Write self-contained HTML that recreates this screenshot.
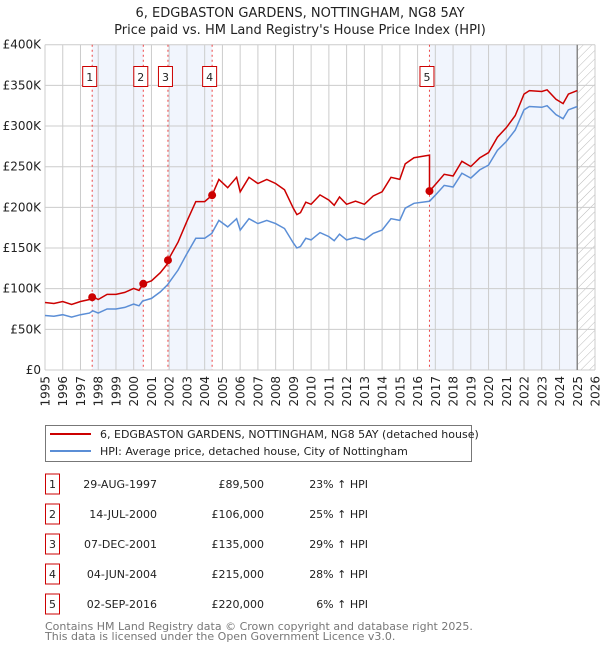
<!DOCTYPE html>
<html><head><meta charset="utf-8"><style>
body{margin:0;background:#fff;font-family:"Liberation Sans","DejaVu Sans",sans-serif}
svg{display:block}
</style></head><body>
<svg id="c" width="600" height="650" xmlns="http://www.w3.org/2000/svg" font-family="DejaVu Sans, Liberation Sans, sans-serif">
<text x="300" y="17" text-anchor="middle" font-size="13" fill="#222">6, EDGBASTON GARDENS, NOTTINGHAM, NG8 5AY</text>
<text x="300" y="34" text-anchor="middle" font-size="13" fill="#222">Price paid vs. HM Land Registry's House Price Index (HPI)</text>
<g id="plot"></g>
<g>
<rect x="45.5" y="425.5" width="426" height="36" fill="#fff" stroke="#777"/>
<line x1="50" y1="434" x2="91" y2="434" stroke="#cc0000" stroke-width="2"/>
<text x="100" y="438" font-size="11" fill="#222">6, EDGBASTON GARDENS, NOTTINGHAM, NG8 5AY (detached house)</text>
<line x1="50" y1="451" x2="91" y2="451" stroke="#5b8ed6" stroke-width="2"/>
<text x="100" y="455" font-size="11" fill="#222">HPI: Average price, detached house, City of Nottingham</text>
</g>
<g id="table" font-size="11" fill="#222"></g>
<text x="45" y="630" font-size="11" fill="#777">Contains HM Land Registry data © Crown copyright and database right 2025.</text>
<text x="45" y="640" font-size="11" fill="#777">This data is licensed under the Open Government Licence v3.0.</text>
</svg>
<script>
const hpiYears=[1995,1995.5,1996,1996.5,1997,1997.5,1997.7,1998,1998.5,1999,1999.5,2000,2000.3,2000.5,2001,2001.5,2001.9,2002.5,2003,2003.5,2004,2004.4,2004.8,2005.3,2005.8,2006,2006.5,2007,2007.5,2008,2008.5,2009,2009.2,2009.4,2009.7,2010,2010.5,2011,2011.3,2011.6,2012,2012.5,2013,2013.5,2014,2014.5,2015,2015.3,2015.8,2016.67,2017,2017.5,2018,2018.5,2019,2019.5,2020,2020.5,2021,2021.5,2022,2022.3,2023,2023.3,2023.8,2024.2,2024.5,2025];
const hpiValues=[67,66,68,65,68,70,72.8,70,75,75,77,81,79,84.8,88,96,104.7,123,143,162,162,168,184,176,186,172,186,180,184,180,174,156,150,152,162,160,169,164,159,167,160,163,160,168,172,186,184,199,205,207.5,215,227,225,242,236,246,252,270,281,295,320,324,323,325,314,309,320,324];
const saleLabels=["1","2","3","4","5"];
const saleYears=[1997.66,2000.54,2001.93,2004.42,2016.67];
const salePrices=[89500,106000,135000,215000,220000];
const saleDates=["29-AUG-1997","14-JUL-2000","07-DEC-2001","04-JUN-2004","02-SEP-2016"];
const salePrinted=["£89,500","£106,000","£135,000","£215,000","£220,000"];
const salePct=["23% ↑ HPI","25% ↑ HPI","29% ↑ HPI","28% ↑ HPI","6% ↑ HPI"];
const yTicks=[0,50,100,150,200,250,300,350,400];
const yTickLabels=["£0","£50K","£100K","£150K","£200K","£250K","£300K","£350K","£400K"];
const xTicks=[1995,1996,1997,1998,1999,2000,2001,2002,2003,2004,2005,2006,2007,2008,2009,2010,2011,2012,2013,2014,2015,2016,2017,2018,2019,2020,2021,2022,2023,2024,2025,2026];

const NS="http://www.w3.org/2000/svg";
const L=45,R=595,T=44.7,B=370,x0=1995,x1=2026,yMax=400,dataEnd=2025;
const X=y=>L+(y-x0)/(x1-x0)*(R-L);
const Y=v=>B-v/yMax*(B-T);
const plot=document.getElementById('plot');
function mk(tag,attrs,parent){const e=document.createElementNS(NS,tag);for(const k in attrs)e.setAttribute(k,attrs[k]);(parent||plot).appendChild(e);return e;}
function hpiAt(t){for(let i=0;i<hpiYears.length-1;i++){if(t<=hpiYears[i+1]){const f=(t-hpiYears[i])/(hpiYears[i+1]-hpiYears[i]);return hpiValues[i]+f*(hpiValues[i+1]-hpiValues[i]);}}return hpiValues[hpiValues.length-1];}

for(let i=0;i<saleYears.length;i+=2){
  const a=saleYears[i],b=i+1<saleYears.length?saleYears[i+1]:dataEnd;
  const r=mk('rect',{x:X(a),y:T,width:X(b)-X(a),height:B-T,fill:'#eef3fc',opacity:0.8});
  
  
}
const defs=mk('defs',{});
const pat=mk('pattern',{id:'h',width:6,height:6,patternUnits:'userSpaceOnUse',patternTransform:'rotate(45)'},defs);
mk('line',{x1:0,y1:0,x2:0,y2:6,stroke:'#bbb','stroke-width':1},pat);
const hr=mk('rect',{x:X(dataEnd),y:T,width:R-X(dataEnd),height:B-T,fill:'url(#h)'});


xTicks.forEach((t,i)=>{
  const g=mk('line',{x1:X(t),x2:X(t),y1:T,y2:B,stroke:'#cccccc','stroke-width':1});
  
  
  const gg=mk('g',{transform:'translate('+(X(t)+4.5).toFixed(1)+','+(B+6)+')'});
  const tx=mk('text',{x:0,y:0,'text-anchor':'end','font-size':12,fill:'#222',transform:'rotate(-90)'},gg);
  tx.textContent=t;
  
  
});
yTicks.forEach((v,i)=>{
  const g=mk('line',{x1:L,x2:R,y1:Y(v),y2:Y(v),stroke:'#cccccc','stroke-width':1});
  
  
  const tx=mk('text',{x:L-4,y:Y(v)+4,'text-anchor':'end','font-size':12,fill:'#222'});
  tx.textContent=yTickLabels[i];
  
  
});
const el=mk('line',{x1:X(dataEnd),x2:X(dataEnd),y1:T,y2:B,stroke:'#888','stroke-width':1.5});


saleYears.forEach(s=>{
  const l=mk('line',{x1:X(s),x2:X(s),y1:T,y2:B,stroke:'#ee4444','stroke-width':1,'stroke-dasharray':'2,3'});
  
  
});
let d='';hpiYears.forEach((t,i)=>{d+=(i?'L':'M')+X(t).toFixed(1)+','+Y(hpiValues[i]).toFixed(1);});
const hl=mk('path',{d:d,fill:'none',stroke:'#5b8ed6','stroke-width':1.5});


const ratios=saleYears.map((s,i)=>salePrices[i]/1000/hpiAt(s));
const ts=hpiYears.concat(saleYears).sort((a,b)=>a-b);
let pd='',first=true;
ts.forEach(t=>{
  let k=0;for(let i=0;i<saleYears.length;i++)if(t>=saleYears[i])k=i;
  const isSale=saleYears.indexOf(t);
  if(isSale>0){const pv=hpiAt(t)*ratios[isSale-1];pd+='L'+X(t).toFixed(1)+','+Y(pv).toFixed(1);}
  const v=hpiAt(t)*ratios[k];
  pd+=(first?'M':'L')+X(t).toFixed(1)+','+Y(v).toFixed(1);first=false;
});
const pl=mk('path',{d:pd,fill:'none',stroke:'#cc0000','stroke-width':1.5});


saleYears.forEach((s,i)=>{
  const c=mk('circle',{cx:X(s),cy:Y(salePrices[i]/1000),r:4,fill:'#cc0000'});
  
  
  const b=mk('rect',{x:X(s)-9.5,y:66.5,width:14,height:20,fill:'#fff',stroke:'#cc0000','stroke-width':1});
  
  
  const tx=mk('text',{x:X(s)-2.5,y:81,'text-anchor':'middle','font-size':11,fill:'#222'});
  tx.textContent=saleLabels[i];
  
  
});
const tb=document.getElementById('table');
saleLabels.forEach((lab,i)=>{
  const cy=483+i*30;
  const g=mk('g',{},tb);
  
  
  const b=mk('rect',{x:45.5,y:cy-9,width:14,height:20,fill:'#fff',stroke:'#cc0000'},g);
  
  
  const cols=[[52.5,'middle',lab,'row-number'],[157,'end',saleDates[i],'row-date'],[264,'end',salePrinted[i],'row-price'],[368,'end',salePct[i],'row-hpi-change']];
  cols.forEach(c=>{const t=mk('text',{x:c[0],y:cy+5,'text-anchor':c[1],'font-size':11,fill:'#222'},g);t.textContent=c[2];
    
    });
});
</script>
</body></html>
